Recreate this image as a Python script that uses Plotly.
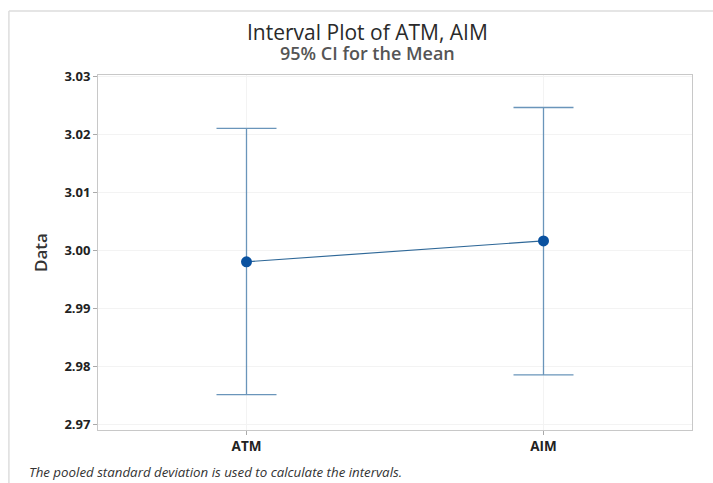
import plotly.graph_objects as go

categories = ["ATM", "AIM"]
means = [2.9981, 3.0017]
upper = [3.0211, 3.0247]
lower = [2.9752, 2.9786]
y_ticks = [2.97, 2.98, 2.99, 3.00, 3.01, 3.02, 3.03]
y_tick_labels = ["2.97", "2.98", "2.99", "3.00", "3.01", "3.02", "3.03"]

err_plus = [u - m for u, m in zip(upper, means)]
err_minus = [m - l for m, l in zip(means, lower)]

FONT = "Open Sans"

fig = go.Figure()
fig.add_trace(go.Scatter(
    x=categories, y=means, mode="lines+markers",
    line=dict(color="#2F6898", width=1.2),
    marker=dict(size=11, color="#0A52A0"),
    error_y=dict(type="data", symmetric=False, array=err_plus, arrayminus=err_minus,
                 color="#6A95BA", thickness=1.3, width=30),
    showlegend=False,
))

title_text = ("<span style='font-size:21px;color:#2A2A2A'>Interval Plot of ATM, AIM</span><br>"
              "<span style='font-size:18px;color:#555555;font-weight:600'>95% CI for the Mean</span>")

fig.update_layout(
    width=713, height=483,
    margin=dict(l=98, r=21, t=75, b=53),
    paper_bgcolor="white", plot_bgcolor="white",
    font=dict(family=FONT, color="#333333"),
    xaxis=dict(
        range=[-0.5, 1.5], showline=True, linecolor="#C8C8C8", linewidth=1, mirror=True,
        showgrid=True, gridcolor="#F3F3F3", ticks="outside", ticklen=4, tickcolor="#AAAAAA",
        tickfont=dict(family=FONT, size=13.5, color="#222222", weight="bold"), zeroline=False,
    ),
    yaxis=dict(
        range=[2.9691, 3.0303], tickvals=y_ticks, ticktext=y_tick_labels,
        showline=True, linecolor="#C8C8C8", linewidth=1, mirror=True,
        showgrid=True, gridcolor="#F3F3F3", ticks="outside", ticklen=4, tickcolor="#AAAAAA",
        tickfont=dict(family=FONT, size=13, color="#222222", weight="bold"), zeroline=False,
        title=dict(text="Data", font=dict(family=FONT, size=17, color="#333333", weight=600), standoff=12),
    ),
    shapes=[
        dict(type="line", xref="paper", yref="paper", x0=-0.15, x1=1.2, y0=1.18, y1=1.18,
             line=dict(color="#DDDDDD", width=1.5)),
        dict(type="line", xref="paper", yref="paper", x0=-0.15, x1=-0.15, y0=1.18, y1=-0.3,
             line=dict(color="#DDDDDD", width=1.5)),
    ],
    annotations=[
        dict(text=title_text, xref="paper", yref="paper", x=0.453, y=(430 - 42) / 355,
             xanchor="center", yanchor="middle", showarrow=False,
             font=dict(family=FONT, size=15.5, color="#2A2A2A")),
        dict(text="<i>The pooled standard deviation is used to calculate the intervals.</i>",
             xref="paper", yref="paper", x=(27 - 98) / 594, y=(430 - 472) / 355,
             xanchor="left", yanchor="middle", showarrow=False,
             font=dict(family=FONT, size=13.3, color="#333333")),
    ],
)

fig.write_html("out.html", config={"displayModeBar": False},
               post_script="document.body.style.margin='0';document.body.style.overflow='hidden';")
